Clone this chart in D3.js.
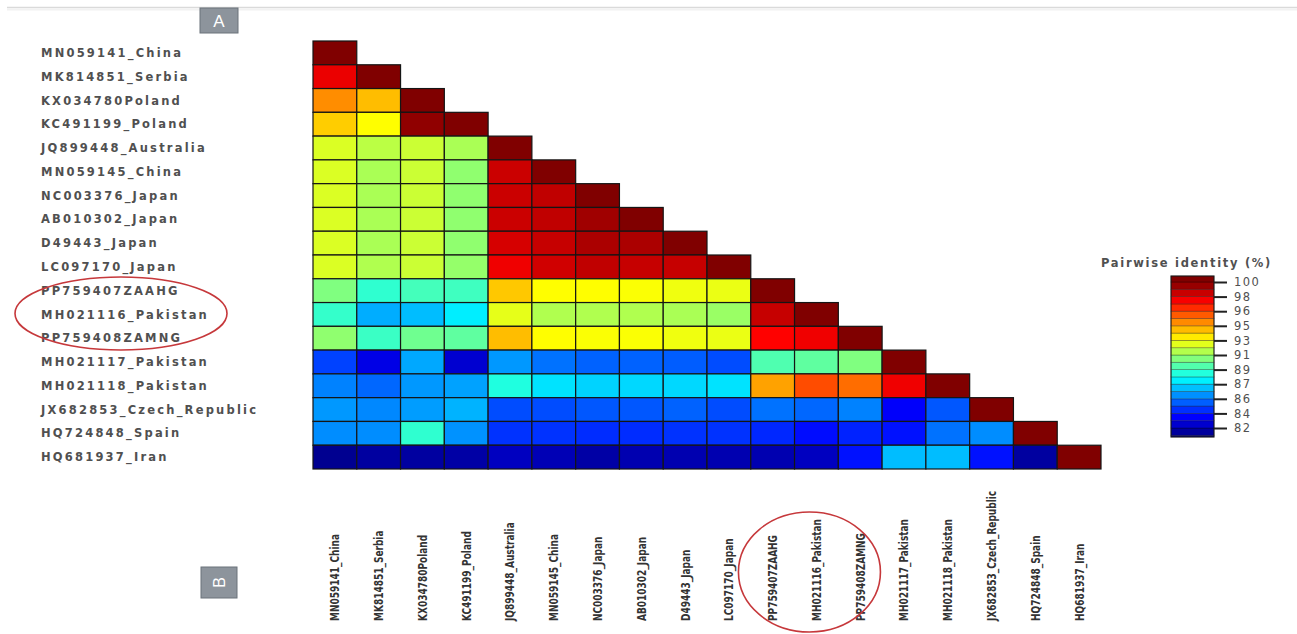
<!DOCTYPE html>
<html>
<head>
<meta charset="utf-8">
<script src="https://cdn.jsdelivr.net/npm/d3@7"></script>
<style>
  html, body { margin: 0; padding: 0; background: #fff; }
  svg { display: block; }
</style>
</head>
<body>
<svg id="chart" width="1297" height="634"></svg>
<script>
// Sequence names, in matrix order (rows top→bottom, columns left→right)
const sequences = [
  "MN059141_China", "MK814851_Serbia", "KX034780Poland", "KC491199_Poland",
  "JQ899448_Australia", "MN059145_China", "NC003376_Japan", "AB010302_Japan",
  "D49443_Japan", "LC097170_Japan", "PP759407ZAAHG", "MH021116_Pakistan",
  "PP759408ZAMNG", "MH021117_Pakistan", "MH021118_Pakistan",
  "JX682853_Czech_Republic", "HQ724848_Spain", "HQ681937_Iran"
];

// Pairwise identity (%), lower triangle including the diagonal
const identityRows = [
  [100],
  [98.0, 100],
  [95.0, 94.1, 100],
  [93.8, 92.9, 99.7, 100],
  [92.2, 91.6, 91.9, 91.3, 100],
  [92.2, 91.3, 91.9, 90.8, 98.6, 100],
  [92.2, 91.3, 91.9, 90.8, 98.6, 98.8, 100],
  [92.2, 91.3, 91.9, 90.8, 98.6, 98.8, 99.4, 100],
  [92.2, 91.3, 91.9, 90.8, 98.4, 98.7, 99.2, 99.2, 100],
  [92.2, 91.4, 91.9, 90.9, 97.9, 98.5, 98.8, 98.7, 98.7, 100],
  [90.5, 89.0, 89.4, 89.3, 93.9, 92.9, 92.9, 92.8, 92.6, 92.5, 100],
  [89.1, 86.6, 86.9, 87.8, 92.4, 91.4, 91.4, 91.4, 91.3, 91.0, 98.7, 100],
  [90.8, 89.2, 90.2, 89.9, 94.1, 92.9, 92.8, 92.8, 92.6, 92.5, 97.6, 97.9, 100],
  [84.6, 82.9, 86.5, 82.5, 86.2, 85.5, 85.2, 85.2, 85.1, 84.8, 89.6, 89.9, 90.5, 100],
  [85.8, 85.3, 86.2, 86.4, 88.7, 87.6, 87.3, 87.4, 87.4, 87.6, 94.6, 96.2, 95.6, 97.9, 100],
  [86.2, 85.9, 86.3, 86.7, 84.8, 84.8, 85.0, 85.0, 85.2, 84.8, 85.5, 85.3, 85.8, 83.3, 85.0, 100],
  [86.0, 86.0, 89.0, 86.1, 84.3, 84.3, 84.2, 84.2, 84.3, 84.3, 84.1, 83.6, 84.0, 83.7, 85.5, 86.0, 100],
  [81.3, 81.6, 81.6, 81.7, 82.2, 82.0, 81.7, 81.9, 81.9, 81.9, 81.9, 82.2, 83.7, 86.9, 86.9, 83.7, 81.6, 100]
];

// Colour-bar ticks (labels are rounded to whole percent)
const legendTickValues = [100, 98.2, 96.4, 94.6, 92.8, 91, 89.2, 87.4, 85.6, 83.8, 82];
const legendTitle = "Pairwise identity (%)";
const highlighted = ["PP759407ZAAHG", "MH021116_Pakistan", "PP759408ZAMNG"];
const panelTags = ["A", "B"];

const svg = d3.select("#chart");
const labelFont = "'DejaVu Sans', Verdana, sans-serif";
const narrowFont = "'DejaVu Sans Condensed', 'DejaVu Sans', sans-serif";

// Jet colour map spanning 81–100 % identity
const jetStops = [0, 0.125, 0.375, 0.625, 0.875, 1];
const color = d3.scaleLinear()
  .domain(jetStops.map(t => 81 + 19 * t))
  .range(["#000080", "#0000ff", "#00ffff", "#ffff00", "#ff0000", "#800000"])
  .clamp(true);

// Thin header rule
svg.append("line")
  .attr("x1", 7).attr("x2", 1297).attr("y1", 7.5).attr("y2", 7.5)
  .attr("stroke", "#dadada").attr("stroke-width", 1.5);
svg.append("rect")
  .attr("x", 7).attr("y", 8.5).attr("width", 1290).attr("height", 2)
  .attr("fill", "#f2f2f2");

// Matrix scales
const x = d3.scaleBand().domain(sequences).range([313, 1101]);
const y = d3.scaleBand().domain(sequences).range([41, 469]);

const cells = [];
identityRows.forEach((row, r) => row.forEach((v, c) => cells.push({ r, c, v })));

svg.append("g").selectAll("rect")
  .data(cells)
  .join("rect")
  .attr("x", d => x(sequences[d.c]))
  .attr("y", d => y(sequences[d.r]))
  .attr("width", x.bandwidth())
  .attr("height", y.bandwidth())
  .attr("fill", d => color(d.v))
  .attr("stroke", "#151515")
  .attr("stroke-width", 1.2);

// Row labels (left aligned)
svg.append("g").selectAll("text")
  .data(sequences)
  .join("text")
  .attr("x", 41)
  .attr("y", d => y(d) + y.bandwidth() / 2)
  .attr("dy", "0.36em")
  .attr("font-family", labelFont)
  .attr("font-size", 11.5)
  .attr("font-weight", "bold")
  .attr("letter-spacing", 2.2)
  .attr("fill", "#505050")
  .text(d => d);

// Column labels, vertical, bottom aligned, condensed
svg.append("g").selectAll("text")
  .data(sequences)
  .join("text")
  .attr("transform", d => `translate(${x(d) + x.bandwidth() / 2},621) rotate(-90) scale(1,1.22)`)
  .attr("dy", "0.36em")
  .attr("font-family", narrowFont)
  .attr("font-stretch", "condensed")
  .attr("font-weight", "bold")
  .attr("font-size", 10)
  .attr("fill", "#333")
  .text(d => d);

// Panel tags
const tagA = svg.append("g");
tagA.append("rect").attr("x", 200).attr("y", 8).attr("width", 38).attr("height", 25)
  .attr("fill", "#8d949c").attr("stroke", "#6b737b").attr("stroke-width", 1);
tagA.append("text").attr("x", 219).attr("y", 21).attr("dy", "0.36em")
  .attr("text-anchor", "middle").attr("font-family", "'Liberation Sans', Arial, sans-serif")
  .attr("font-size", 17).attr("fill", "#fff").text(panelTags[0]);

const tagB = svg.append("g");
tagB.append("rect").attr("x", 201).attr("y", 567).attr("width", 36).attr("height", 31)
  .attr("fill", "#8d949c").attr("stroke", "#6b737b").attr("stroke-width", 1);
tagB.append("text").attr("transform", "translate(219,582.5) rotate(-90)").attr("dy", "0.36em")
  .attr("text-anchor", "middle").attr("font-family", "'Liberation Sans', Arial, sans-serif")
  .attr("font-size", 16).attr("fill", "#fff").text(panelTags[1]);

// Highlight ellipses around the study sequences
const hiRowCenter = d3.mean(highlighted, s => y(s) + y.bandwidth() / 2);
const hiColCenter = d3.mean(highlighted, s => x(s) + x.bandwidth() / 2);
svg.append("ellipse")
  .attr("cx", 121).attr("cy", hiRowCenter - 1)
  .attr("rx", 106).attr("ry", 36.5)
  .attr("fill", "none").attr("stroke", "#c6383b").attr("stroke-width", 1.6);
svg.append("ellipse")
  .attr("cx", hiColCenter - 7).attr("cy", 572)
  .attr("rx", 71).attr("ry", 60)
  .attr("fill", "none").attr("stroke", "#c6383b").attr("stroke-width", 1.6);

// Colour bar legend
const legendY = d3.scaleLinear().domain([82, 100]).range([428, 282]);
const barX = 1171, barW = 43;
const barTop = 276, barBottom = 437;
const vTop = legendY.invert(barTop), vBottom = legendY.invert(barBottom);
const step = 0.9;
const bands = d3.range(Math.floor((vBottom - 82) / step), Math.ceil((vTop - 82) / step))
  .map(k => {
    const lo = Math.max(82 + k * step, vBottom);
    const hi = Math.min(82 + (k + 1) * step, vTop);
    return { lo, hi, mid: (lo + hi) / 2 };
  });

const legend = svg.append("g");
legend.selectAll("rect.band")
  .data(bands)
  .join("rect")
  .attr("class", "band")
  .attr("x", barX)
  .attr("y", d => legendY(d.hi))
  .attr("width", barW)
  .attr("height", d => legendY(d.lo) - legendY(d.hi))
  .attr("fill", d => color(d.mid))
  .attr("stroke", "rgba(0,0,0,0.35)")
  .attr("stroke-width", 0.8);
legend.append("rect")
  .attr("x", barX).attr("y", barTop).attr("width", barW).attr("height", barBottom - barTop)
  .attr("fill", "none").attr("stroke", "#1a1a1a").attr("stroke-width", 1);

const legendAxis = d3.axisRight(legendY)
  .tickValues(legendTickValues)
  .tickFormat(d3.format(".0f"))
  .tickSize(13)
  .tickPadding(7);
const axisG = legend.append("g")
  .attr("transform", `translate(${barX + barW},0)`)
  .call(legendAxis);
axisG.select(".domain").remove();
axisG.selectAll(".tick line").attr("stroke", "#222").attr("stroke-width", 2);
axisG.selectAll(".tick text")
  .attr("font-family", labelFont)
  .attr("font-size", 11.5)
  .attr("letter-spacing", 1.4)
  .attr("fill", "#505050");

legend.append("text")
  .attr("x", 1101).attr("y", 267)
  .attr("font-family", labelFont)
  .attr("font-size", 11.5)
  .attr("font-weight", "bold")
  .attr("letter-spacing", 1.7)
  .attr("fill", "#505050")
  .text(legendTitle);
</script>
</body>
</html>
